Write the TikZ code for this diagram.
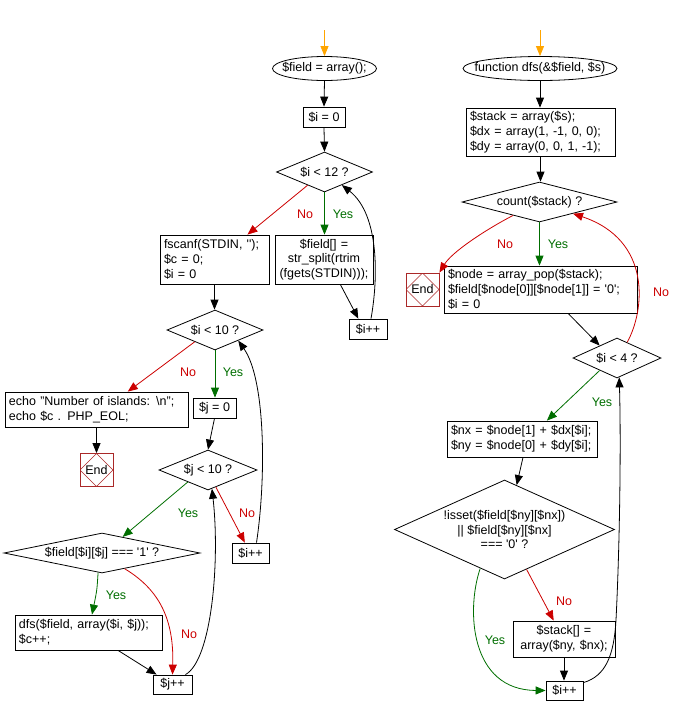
\documentclass[tikz,border=0pt]{standalone}
\usepackage{fontspec}
\setmainfont{Liberation Sans}
\usetikzlibrary{shapes.geometric,arrows.meta,calc}
\definecolor{nored}{RGB}{204,0,0}
\definecolor{yesgreen}{RGB}{0,110,0}
\definecolor{startor}{RGB}{255,165,0}
\definecolor{endred}{RGB}{170,40,40}
\newcommand{\sqt}{\textquotesingle}
\begin{document}
\begin{tikzpicture}[x=1pt,y=-1pt,
  font=\fontsize{12.5}{14.7}\selectfont,
  line width=0.8pt,
  proc/.style={draw, rectangle, inner xsep=4pt, inner ysep=0pt, align=left},
  procc/.style={proc, align=center},
  dec/.style={draw, diamond, inner sep=0pt, align=center},
  ell/.style={draw, ellipse, inner xsep=-14pt, inner ysep=0pt},
  endn/.style={draw=endred, rectangle, minimum width=33pt, minimum height=33pt, inner sep=0pt,
    path picture={\draw[endred, line width=0.6pt] (path picture bounding box.north) -- (path picture bounding box.east) -- (path picture bounding box.south) -- (path picture bounding box.west) -- cycle;}},
  arr/.style={-{Triangle[length=10pt,width=8pt]}},
  noarr/.style={arr, nored},
  yesarr/.style={arr, yesgreen},
  startarr/.style={arr, startor},
  nolbl/.style={text=nored, inner sep=0pt},
  yeslbl/.style={text=yesgreen, inner sep=0pt}]
\useasboundingbox (0,0) rectangle (675,716);

% ---------- left flow ----------
\coordinate (s1) at (324.5,30);
\node[ell, minimum width=104pt, minimum height=24pt] (e1) at (324.5,68.5) {\$field = array();};
\node[procc, minimum width=42pt, minimum height=20pt] (i0) at (324,117) {\$i = 0};
\node[dec, minimum width=96pt, minimum height=40pt, shape aspect=2.4] (d12) at (324.5,172) {\$i < 12 ?};
\node[proc, text width=101pt, minimum height=49pt] (fscanf) at (214.5,259.5) {fscanf(STDIN, \sqt\sqt);\\\$c = 0;\\\$i = 0};
\node[procc, text width=90pt, minimum height=49pt] (fieldpush) at (324,259.5) {\$field[] =\\str\_split(rtrim\\(fgets(STDIN)));};
\node[procc, minimum width=38pt, minimum height=20pt] (ipp1) at (368,329) {\$i++};
\node[dec, minimum width=96pt, minimum height=40pt, shape aspect=2.4] (d10) at (215,330) {\$i < 10 ?};
\node[proc, text width=175pt, minimum height=35pt] (echo) at (96.5,409.5) {echo "Number of islands: \textbackslash n";\\echo \$c . PHP\_EOL;};
\node[endn] (end1) at (96.5,470) {End};
\node[procc, minimum width=43pt, minimum height=20pt] (j0) at (214.5,408) {\$j = 0};
\node[dec, minimum width=98pt, minimum height=40pt, shape aspect=2.45] (dj10) at (208,470) {\$j < 10 ?};
\node[procc, minimum width=37pt, minimum height=20pt] (ipp2) at (250.5,553) {\$i++};
\node[dec, minimum width=196pt, minimum height=40pt, shape aspect=4.9] (dfield) at (102,553) {\$field[\$i][\$j] === \sqt 1\sqt\ ?};
\node[proc, text width=139pt, minimum height=35pt] (dfs) at (88.5,632.5) {dfs(\$field, array(\$i, \$j));\\\$c++;};
\node[procc, minimum width=39pt, minimum height=19pt] (jpp) at (172.5,684.5) {\$j++};

\draw[startarr] (s1) -- (e1.south |- e1.north);
\draw[arr] (e1.south) -- (i0.north);
\draw[arr] (i0.south) -- (d12.north);
\draw[noarr] ($(d12.south)!0.35!(d12.west)$) -- ($(fscanf.north)!0.6!(fscanf.north east)$);
\draw[yesarr] (d12.south) -- (d12.south |- fieldpush.north);
\draw[arr] ($(fieldpush.south)!0.33!(fieldpush.south east)$) -- ($(ipp1.north)!0.5!(ipp1.north west)$);
\draw[arr] ($(ipp1.north)+(3,0)$) .. controls (378,280) and (380,215) .. ($(d12.south)!0.36!(d12.east)$);
\draw[arr] (fscanf.south) -- (fscanf.south |- d10.north);
\draw[noarr] ($(d10.south)!0.42!(d10.west)$) -- ($(echo.north)!0.34!(echo.north east)$);
\draw[yesarr] (d10.south) -- (d10.south |- j0.north);
\draw[arr] (echo.south) -- (end1.north);
\draw[arr] (j0.south) -- (dj10.north);
\draw[yesarr] ($(dj10.south)!0.41!(dj10.west)$) -- ($(dfield.north)!0.21!(dfield.east)$);
\draw[noarr] ($(dj10.south)!0.16!(dj10.east)$) -- ($(ipp2.north)!0.3!(ipp2.north west)$);
\draw[arr] ($(ipp2.north)+(6,0)$) .. controls (266,480) and (266,380) .. ($(d10.south)!0.48!(d10.east)$);
\draw[yesarr] ($(dfield.south)!0.04!(dfield.west)$) .. controls (97,590) .. ($(dfs.north)+(3.5,0)$);
\draw[noarr] ($(dfield.south)!0.23!(dfield.east)$) .. controls (160,590) and (174,620) .. (jpp.north);
\draw[arr] ($(dfs.south)!0.4!(dfs.south east)$) -- ($(jpp.north west)!0.2!(jpp.north)$);
\draw[arr] ($(jpp.north)!0.65!(jpp.north east)$) .. controls (212,660) and (220,560) .. ($(dj10.south)!0.08!(dj10.east)$);

\node[nolbl] (l1) at (305,214) {No};
\node[yeslbl] (l2) at (343,214) {Yes};
\node[nolbl] (l3) at (188,372) {No};
\node[yeslbl] (l4) at (233,372) {Yes};
\node[yeslbl] (l5) at (188,513) {Yes};
\node[nolbl] (l6) at (247,513) {No};
\node[yeslbl] (l7) at (116,595) {Yes};
\node[nolbl] (l8) at (189,634) {No};

% ---------- right flow ----------
\coordinate (s2) at (540,30);
\node[ell, minimum width=154pt, minimum height=24pt] (e2) at (540,68.5) {function dfs(\&\$field, \$s)};
\node[proc, text width=141pt, minimum height=48pt] (init) at (540.5,132) {\$stack = array(\$s);\\\$dx = array(1, -1, 0, 0);\\\$dy = array(0, 0, 1, -1);};
\node[dec, minimum width=155pt, minimum height=40pt, shape aspect=3.9] (dcount) at (539.5,202) {count(\$stack) ?};
\node[endn] (end2) at (422.5,289.5) {End};
\node[proc, text width=185pt, minimum height=47pt] (nodebox) at (540.5,289.5) {\$node = array\_pop(\$stack);\\\$field[\$node[0]][\$node[1]] = \sqt 0\sqt;\\\$i = 0};
\node[dec, minimum width=88pt, minimum height=40pt, shape aspect=2.2] (di4) at (617,358) {\$i < 4 ?};
\node[proc, text width=142pt, minimum height=36pt] (nx) at (522,439) {\$nx = \$node[1] + \$dx[\$i];\\\$ny = \$node[0] + \$dy[\$i];};
\node[dec, minimum width=220pt, minimum height=99pt, shape aspect=2.2, inner sep=-6pt] (dbig) at (504.5,529.5) {!isset(\$field[\$ny][\$nx])\\|| \$field[\$ny][\$nx]\\=== \sqt 0\sqt\ ?};
\node[procc, text width=94pt, minimum height=36pt] (stackpush) at (564,639) {\$stack[] =\\array(\$ny, \$nx);};
\node[procc, minimum width=37pt, minimum height=19pt] (ipp3) at (564.5,690.5) {\$i++};

\draw[startarr] (s2) -- (e2.north);
\draw[arr] (e2.south) -- (e2.south |- init.north);
\draw[arr] (init.south) -- (init.south |- dcount.north);
\draw[noarr] ($(dcount.south)!0.34!(dcount.west)$) .. controls (485,230) and (452,252) .. (end2.north east);
\draw[yesarr] (dcount.south) -- (dcount.south |- nodebox.north);
\draw[arr] ($(nodebox.south)!0.285!(nodebox.south east)$) -- ($(di4.north)!0.39!(di4.west)$);
\draw[noarr] ($(di4.north)!0.23!(di4.east)$) .. controls (645,310) and (652,240) .. ($(dcount.south)!0.43!(dcount.east)$);
\draw[yesarr] ($(di4.south)!0.39!(di4.west)$) -- ($(nx.north)!0.33!(nx.north east)$);
\draw[arr] ($(nx.south)+(1,0)$) -- ($(dbig.north)!0.11!(dbig.east)$);
\draw[noarr] ($(dbig.south)!0.2!(dbig.east)$) -- ($(stackpush.north)!0.2!(stackpush.north west)$);
\draw[arr] (stackpush.south) -- (stackpush.south |- ipp3.north);
\draw[yesarr] ($(dbig.south)!0.22!(dbig.west)$) .. controls (466,610) and (470,690) .. (ipp3.west);
\draw[arr] ($(ipp3.north east)+(0,2)$) .. controls (606,676) and (614,655) .. (616,620) .. controls (620,540) and (621,440) .. ($(di4.south)!0.05!(di4.east)$);

\node[nolbl] (r1) at (505,244) {No};
\node[yeslbl] (r2) at (558,244) {Yes};
\node[nolbl] (r3) at (661,292) {No};
\node[yeslbl] (r4) at (602,402) {Yes};
\node[nolbl] (r5) at (564,601) {No};
\node[yeslbl] (r6) at (495,640) {Yes};
\end{tikzpicture}
\end{document}
